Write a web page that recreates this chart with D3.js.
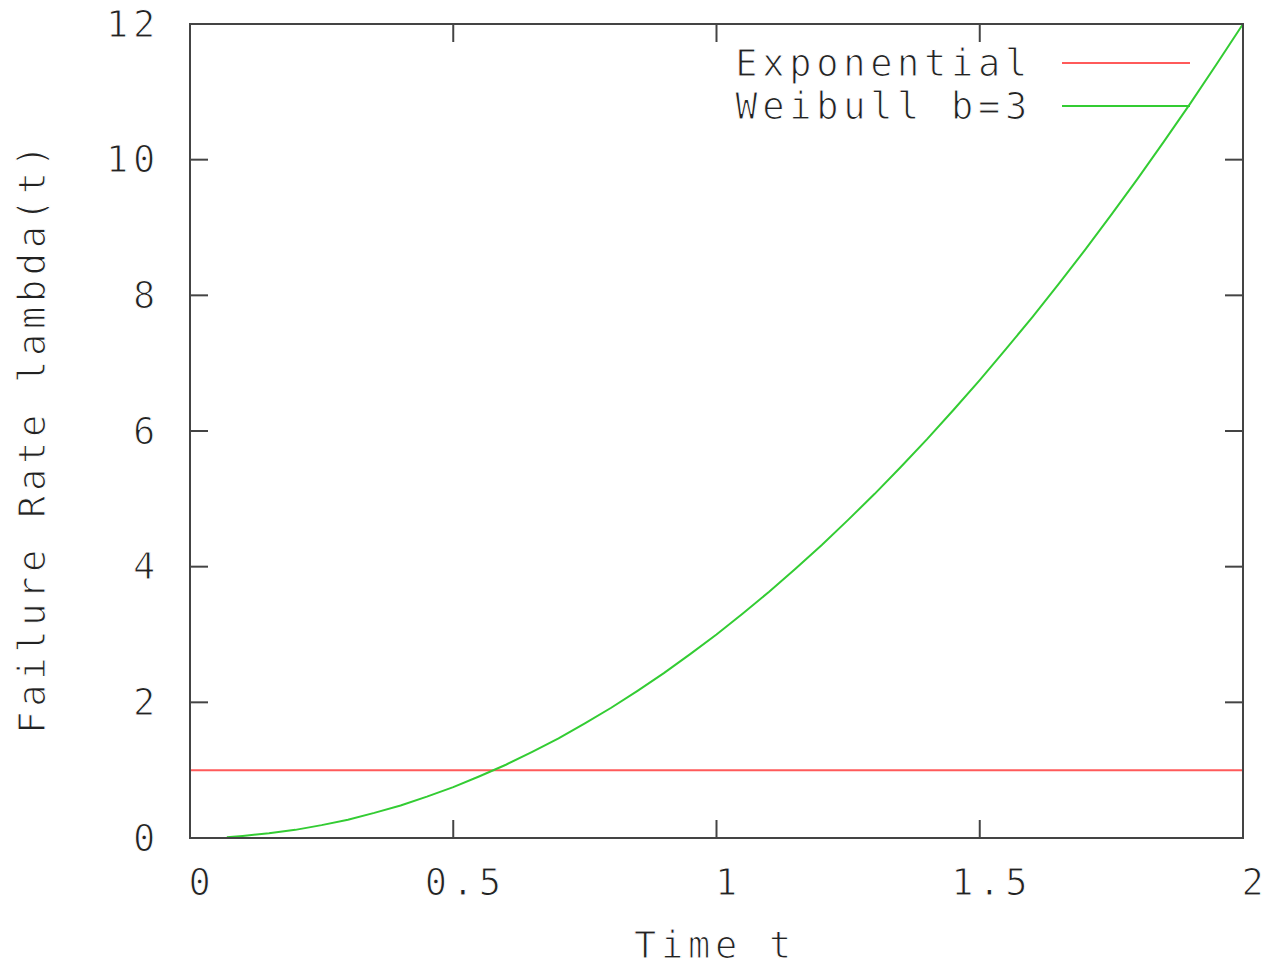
<!DOCTYPE html>
<html><head><meta charset="utf-8">
<script src="https://cdn.jsdelivr.net/npm/d3@7"></script>
<style>
html,body{margin:0;padding:0;background:#fff;}
text{font-family:"DejaVu Sans Mono",monospace;fill:#222;stroke:#fff;stroke-width:1.1px;}
</style></head>
<body><svg id="c" width="1270" height="967"></svg>
<script>
const xTicks = [0, 0.5, 1, 1.5, 2];
const xTickLabels = ["0", "0.5", "1", "1.5", "2"];
const yTicks = [0, 2, 4, 6, 8, 10, 12];
const yTickLabels = ["0", "2", "4", "6", "8", "10", "12"];
const seriesNames = ["Exponential", "Weibull b=3"];
const expT = [0, 2];
const expVals = [1, 1];
const weibT = [0.07,0.1,0.15,0.2,0.25,0.3,0.35,0.4,0.45,0.5,0.55,0.6,0.65,0.7,0.75,0.8,0.85,0.9,0.95,1.0,
  1.05,1.1,1.15,1.2,1.25,1.3,1.35,1.4,1.45,1.5,1.55,1.6,1.65,1.7,1.75,1.8,1.85,1.9,1.95,2.0];
const weibVals = [0.01,0.03,0.07,0.12,0.19,0.27,0.37,0.48,0.61,0.75,0.91,1.08,1.27,1.47,1.69,1.92,2.17,2.43,2.71,3.0,
  3.31,3.63,3.97,4.32,4.69,5.07,5.47,5.88,6.31,6.75,7.21,7.68,8.17,8.67,9.19,9.72,10.27,10.83,11.41,12.0];

const L=190,R=1243,T=24,B=838;
const svg=d3.select("#c");
const x=d3.scaleLinear().domain([0,2]).range([L,R]);
const y=d3.scaleLinear().domain([0,12]).range([B,T]);
const frame="#444", tk=18, fs=37, ls=4.7;

// ticks (inward, mirrored)
const g=svg.append("g").attr("stroke",frame).attr("stroke-width",2);
xTicks.forEach(v=>{
  g.append("line").attr("x1",x(v)).attr("x2",x(v)).attr("y1",B).attr("y2",B-tk);
  g.append("line").attr("x1",x(v)).attr("x2",x(v)).attr("y1",T).attr("y2",T+tk);
});
yTicks.forEach(v=>{
  g.append("line").attr("x1",L).attr("x2",L+tk).attr("y1",y(v)).attr("y2",y(v));
  g.append("line").attr("x1",R).attr("x2",R-tk).attr("y1",y(v)).attr("y2",y(v));
});

// tick labels
xTicks.forEach((v,i)=>{
  svg.append("text").attr("x",x(v)+12).attr("y",882).attr("text-anchor","middle")
    .attr("dominant-baseline","central").attr("font-size",fs).attr("letter-spacing",ls)
    .text(xTickLabels[i]);
});
yTicks.forEach((v,i)=>{
  svg.append("text").attr("x",160).attr("y",y(v)).attr("text-anchor","end")
    .attr("dominant-baseline","central").attr("font-size",fs).attr("letter-spacing",ls)
    .text(yTickLabels[i]);
});

// axis titles
svg.append("text").attr("x",715).attr("y",945).attr("text-anchor","middle")
  .attr("dominant-baseline","central").attr("font-size",fs).attr("letter-spacing",ls).text("Time t");
svg.append("text").attr("transform","translate(32,437) rotate(-90)").attr("text-anchor","middle")
  .attr("dominant-baseline","central").attr("font-size",fs).attr("letter-spacing",ls).text("Failure Rate lambda(t)");

// lines
const line=d3.line().x(d=>x(d[0])).y(d=>y(d[1]));
const plotG=svg.append("g");
plotG.append("path").datum(expT.map((t,i)=>[t,expVals[i]])).attr("d",line)
  .attr("fill","none").attr("stroke","#ff5a5a").attr("stroke-width",2);
plotG.append("path").datum(weibT.map((t,i)=>[t,weibVals[i]])).attr("d",line)
  .attr("fill","none").attr("stroke","#33cc33").attr("stroke-width",2);

// legend
const legColors=["#ff5a5a","#33cc33"], legY=[63,106];
seriesNames.forEach((n,i)=>{
  svg.append("text").attr("x",1032).attr("y",legY[i]).attr("text-anchor","end")
    .attr("dominant-baseline","central").attr("font-size",fs).attr("letter-spacing",ls).text(n);
  svg.append("line").attr("x1",1062).attr("x2",1190).attr("y1",legY[i]).attr("y2",legY[i])
    .attr("stroke",legColors[i]).attr("stroke-width",2);
});

// frame
svg.append("rect").attr("x",L).attr("y",T).attr("width",R-L).attr("height",B-T)
  .attr("fill","none").attr("stroke",frame).attr("stroke-width",2);
</script></body></html>
